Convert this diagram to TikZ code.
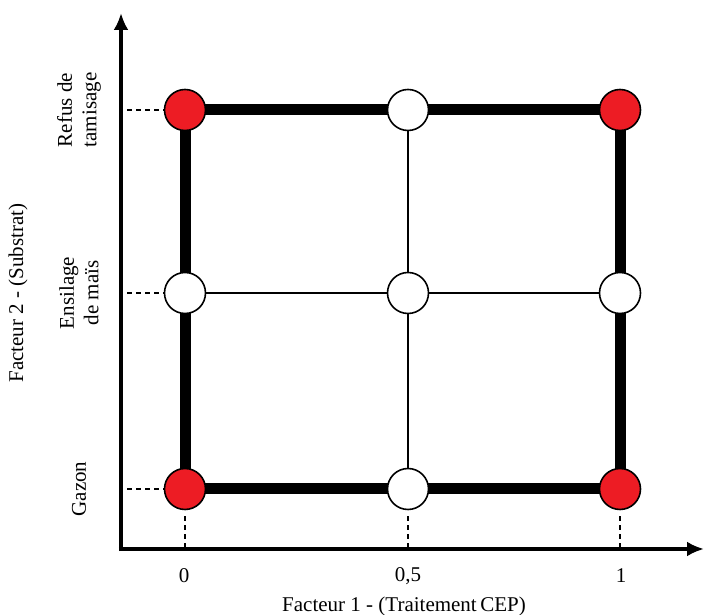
\documentclass[tikz,border=0pt]{standalone}
\usepackage{fontspec}
\setmainfont{Liberation Serif}
\usetikzlibrary{arrows.meta,backgrounds}
\definecolor{dotred}{RGB}{237,28,36}
\begin{document}
\begin{tikzpicture}[x=1pt,y=1pt,
  axisline/.style={line width=4.5pt,-{Latex[length=17pt,width=15pt]}},
  frameline/.style={line width=11pt},
  innerline/.style={line width=2.6pt},
  guide/.style={line width=1.3pt,dash pattern=on 5pt off 4pt},
  reddot/.style={circle,draw=black,line width=1.6pt,fill=dotred,minimum size=41pt,inner sep=0pt},
  whitedot/.style={circle,draw=black,line width=1.6pt,fill=white,minimum size=41pt,inner sep=0pt},
  lbl/.style={font=\fontsize{21}{24.5}\selectfont,align=center,inner sep=0pt}]
\useasboundingbox (0,0) rectangle (704,615);
% axes
\coordinate (o) at (121,66);
\coordinate (ytip) at (121,602);
\coordinate (xtip) at (704,66);
\draw[axisline] ([yshift=-2.25pt]o) -- (ytip);
\draw[axisline] ([xshift=-2.25pt]o) -- (xtip);
% dots
\node[reddot] (a00) at (185,126) {};
\node[whitedot] (a10) at (408,126) {};
\node[reddot] (a20) at (620,126) {};
\node[whitedot] (a01) at (185,322) {};
\node[whitedot] (a11) at (408,322) {};
\node[whitedot] (a21) at (620,322) {};
\node[reddot] (a02) at (185,505) {};
\node[whitedot] (a12) at (408,505) {};
\node[reddot] (a22) at (620,505) {};
% frame and inner lines behind dots
\begin{scope}[on background layer]
\draw[frameline] (a00.center) -- (a20.center) -- (a22.center) -- (a02.center) -- cycle;
\draw[innerline] (a10.center) -- (a12.center);
\draw[innerline] (a01.center) -- (a21.center);
\end{scope}
% guides
\coordinate (gy0) at (127,126);
\coordinate (gy1) at (127,322);
\coordinate (gy2) at (127,505);
\draw[guide] (gy0) -- (a00.west);
\draw[guide] (gy1) -- (a01.west);
\draw[guide] (gy2) -- (a02.west);
\coordinate (gx0) at (185,68);
\coordinate (gx1) at (408,68);
\coordinate (gx2) at (620,68);
\draw[guide] ([yshift=-6pt]a00.south) -- (gx0);
\draw[guide] ([yshift=-6pt]a10.south) -- (gx1);
\draw[guide] ([yshift=-6pt]a20.south) -- (gx2);
% tick labels
\node[lbl] (t0) at (184,39) {0};
\node[lbl] (t1) at (408,39) {0,5};
\node[lbl] (t2) at (621,39) {1};
\node[lbl] (xl) at (404,9) {Facteur 1 - (Traitement\,CEP)};
% y labels
\node[lbl,rotate=90] (l0) at (79,126) {Gazon};
\node[lbl,rotate=90] (l1) at (79,322) {Ensilage\\de maïs};
\node[lbl,rotate=90] (l2) at (79,505) {Refus de\\tamisage};
\node[lbl,rotate=90] (yl) at (18,322) {Facteur 2 - (Substrat)};
\end{tikzpicture}
\end{document}
